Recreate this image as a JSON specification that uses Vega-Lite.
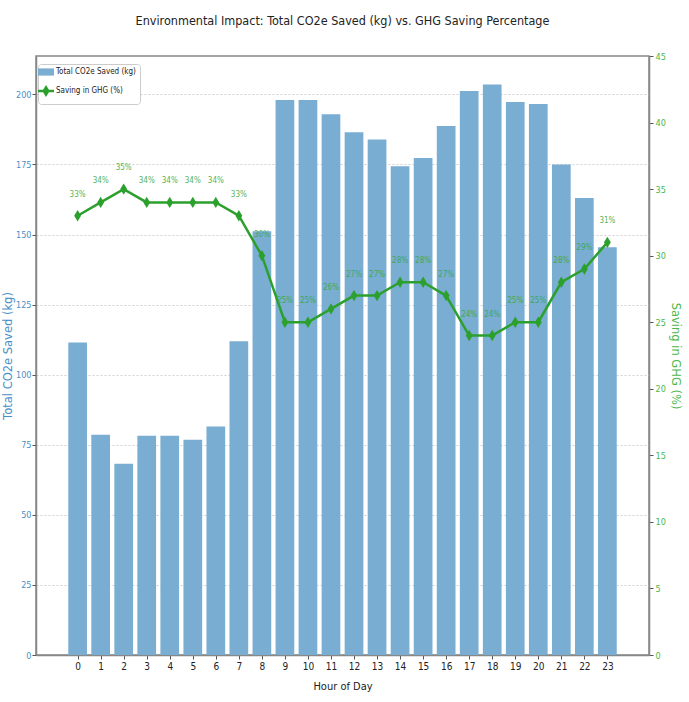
{
  "$schema": "https://vega.github.io/schema/vega-lite/v6.json",
  "width": 613,
  "height": 599,
  "autosize": "none",
  "padding": {"left": 36, "top": 56, "right": 40, "bottom": 47},
  "background": "white",
  "title": {
    "text": "Environmental Impact: Total CO2e Saved (kg) vs. GHG Saving Percentage",
    "font": "DejaVu Sans Condensed, sans-serif",
    "fontSize": 12.5,
    "fontWeight": "normal",
    "color": "#222222",
    "anchor": "middle",
    "offset": 25
  },
  "config": {
    "view": {"stroke": "#888888", "strokeWidth": 1.5},
    "axis": {
      "labelFont": "DejaVu Sans Condensed, sans-serif",
      "labelFontSize": 9,
      "titleFont": "DejaVu Sans, sans-serif",
      "titleFontWeight": "normal",
      "domainColor": "#888888",
      "domainWidth": 1.5,
      "tickColor": "#555555",
      "tickSize": 4,
      "labelPadding": 2
    }
  },
  "data": {
    "values": [
      {"hour": 0, "co2": 111.5, "pct": 33, "lbl": "33%"},
      {"hour": 1, "co2": 78.6, "pct": 34, "lbl": "34%"},
      {"hour": 2, "co2": 68.2, "pct": 35, "lbl": "35%"},
      {"hour": 3, "co2": 78.2, "pct": 34, "lbl": "34%"},
      {"hour": 4, "co2": 78.2, "pct": 34, "lbl": "34%"},
      {"hour": 5, "co2": 76.8, "pct": 34, "lbl": "34%"},
      {"hour": 6, "co2": 81.5, "pct": 34, "lbl": "34%"},
      {"hour": 7, "co2": 111.9, "pct": 33, "lbl": "33%"},
      {"hour": 8, "co2": 151.2, "pct": 30, "lbl": "30%"},
      {"hour": 9, "co2": 198.0, "pct": 25, "lbl": "25%"},
      {"hour": 10, "co2": 198.0, "pct": 25, "lbl": "25%"},
      {"hour": 11, "co2": 192.9, "pct": 26, "lbl": "26%"},
      {"hour": 12, "co2": 186.5, "pct": 27, "lbl": "27%"},
      {"hour": 13, "co2": 183.9, "pct": 27, "lbl": "27%"},
      {"hour": 14, "co2": 174.4, "pct": 28, "lbl": "28%"},
      {"hour": 15, "co2": 177.3, "pct": 28, "lbl": "28%"},
      {"hour": 16, "co2": 188.7, "pct": 27, "lbl": "27%"},
      {"hour": 17, "co2": 201.2, "pct": 24, "lbl": "24%"},
      {"hour": 18, "co2": 203.5, "pct": 24, "lbl": "24%"},
      {"hour": 19, "co2": 197.3, "pct": 25, "lbl": "25%"},
      {"hour": 20, "co2": 196.6, "pct": 25, "lbl": "25%"},
      {"hour": 21, "co2": 175.0, "pct": 28, "lbl": "28%"},
      {"hour": 22, "co2": 163.0, "pct": 29, "lbl": "29%"},
      {"hour": 23, "co2": 145.5, "pct": 31, "lbl": "31%"}
    ]
  },
  "encoding": {
    "x": {
      "field": "hour",
      "type": "quantitative",
      "scale": {"domain": [-1.59, 24.59], "nice": false, "zero": false},
      "axis": {
        "values": [0,1,2,3,4,5,6,7,8,9,10,11,12,13,14,15,16,17,18,19,20,21,22,23],
        "title": "Hour of Day",
        "titleFont": "DejaVu Sans Condensed, sans-serif",
        "titleFontSize": 11,
        "titleColor": "#222222",
        "titlePadding": 9,
        "labelColor": "#222222",
        "labelFontSize": 10,
        "grid": false
      }
    }
  },
  "layer": [
    {
      "mark": {"type": "bar", "width": 18.7},
      "encoding": {
        "y": {
          "field": "co2",
          "type": "quantitative",
          "scale": {"domain": [0, 213.7], "nice": false},
          "axis": {
            "orient": "left",
            "values": [0, 25, 50, 75, 100, 125, 150, 175, 200],
            "title": "Total CO2e Saved (kg)",
            "titleColor": "#4a90c8",
            "titleFontSize": 11.5,
            "titlePadding": 2,
            "labelColor": "#4a90c8",
            "labelPadding": 1,
            "grid": true,
            "gridColor": "#d0d0d0",
            "gridDash": [2, 2],
            "gridWidth": 1
          }
        },
        "color": {
          "datum": "Total CO2e Saved (kg)",
          "type": "nominal",
          "scale": {
            "domain": ["Total CO2e Saved (kg)", "Saving in GHG (%)"],
            "range": ["#79add2", "#2ca02c"]
          },
          "legend": {
            "orient": "none",
            "legendX": 2,
            "legendY": 8,
            "title": null,
            "labelFont": "DejaVu Sans Condensed, sans-serif",
            "labelFontSize": 8,
            "labelColor": "#222222",
            "labelOffset": 6,
            "symbolSize": 256,
            "symbolType": "M-1,-0.45L1,-0.45L1,0.45L-1,0.45Z",
            "rowPadding": 6,
            "padding": 4,
            "strokeColor": "#cccccc",
            "fillColor": "white",
            "cornerRadius": 3,
            "encode": {
              "symbols": {
                "update": {
                  "shape": {"signal": "datum.value === 'Saving in GHG (%)' ? 'M-1,0L1,0M0,-0.45L0.28,0L0,0.45L-0.28,0Z' : 'M-1,-0.45L1,-0.45L1,0.45L-1,0.45Z'"},
                  "fill": {"signal": "datum.value === 'Saving in GHG (%)' ? '#2ca02c' : '#79add2'"},
                  "stroke": {"signal": "datum.value === 'Saving in GHG (%)' ? '#2ca02c' : 'transparent'"},
                  "strokeWidth": {"signal": "datum.value === 'Saving in GHG (%)' ? 2.5 : 0"},
                  "opacity": {"value": 1}
                }
              }
            }
          }
        }
      }
    },
    {
      "encoding": {
        "y": {
          "field": "pct",
          "type": "quantitative",
          "scale": {"domain": [0, 45], "nice": false},
          "axis": {
            "orient": "right",
            "values": [0, 5, 10, 15, 20, 25, 30, 35, 40, 45],
            "title": "Saving in GHG (%)",
            "titleColor": "#4cb84c",
            "titleFontSize": 11.5,
            "titlePadding": 4,
            "labelColor": "#4cb84c",
            "grid": false
          }
        }
      },
      "layer": [
        {
          "mark": {"type": "line", "strokeWidth": 2.5},
          "encoding": {
            "color": {"datum": "Saving in GHG (%)", "type": "nominal"}
          }
        },
        {
          "mark": {
            "type": "point",
            "shape": "M0,-1L0.6,0L0,1L-0.6,0Z",
            "filled": true,
            "size": 130,
            "color": "#2ca02c",
            "opacity": 1
          },
          "encoding": {}
        },
        {
          "mark": {
            "type": "text",
            "dy": -21,
            "font": "DejaVu Sans Condensed, sans-serif",
            "fontSize": 8,
            "color": "#3aa83a",
            "opacity": 0.85
          },
          "encoding": {
            "text": {"field": "lbl", "type": "nominal"}
          }
        }
      ]
    }
  ],
  "resolve": {"scale": {"y": "independent"}}
}
